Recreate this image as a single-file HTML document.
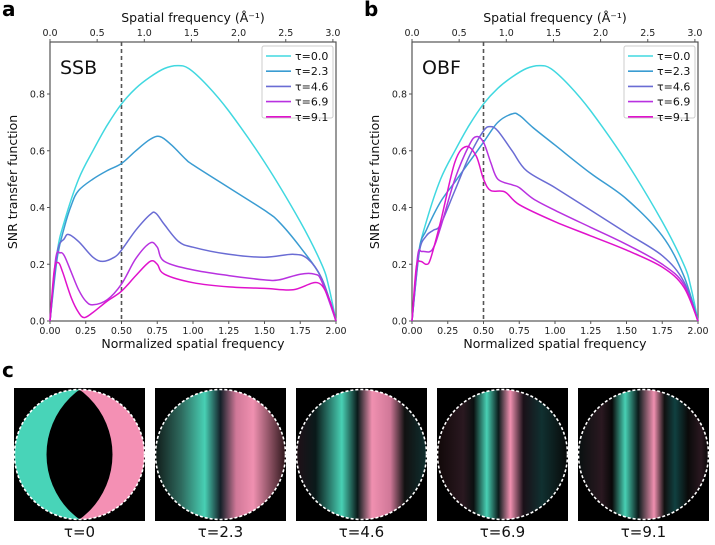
<!DOCTYPE html>
<html><head><meta charset="utf-8"><style>
body{margin:0;background:#fff;width:715px;height:540px;overflow:hidden;font-family:"Liberation Sans","DejaVu Sans",sans-serif}
svg text{font-family:"DejaVu Sans","Liberation Sans",sans-serif}
</style></head><body>
<svg id="fig" width="715" height="540" viewBox="0 0 715 540" xmlns="http://www.w3.org/2000/svg">
<defs>
<linearGradient id="g23" x1="0" x2="1"><stop offset="0" stop-color="#101a18"/><stop offset="0.2" stop-color="#2e6a5e"/><stop offset="0.38" stop-color="#48d0b4"/><stop offset="0.5" stop-color="#142028"/><stop offset="0.62" stop-color="#d07898"/><stop offset="0.75" stop-color="#f090b0"/><stop offset="1" stop-color="#2a1418"/></linearGradient>
<linearGradient id="g46" x1="0" x2="1"><stop offset="0" stop-color="#201018"/><stop offset="0.15" stop-color="#0a1a1a"/><stop offset="0.35" stop-color="#48d0b4"/><stop offset="0.47" stop-color="#0a1a1a"/><stop offset="0.58" stop-color="#f090b0"/><stop offset="0.72" stop-color="#d07898"/><stop offset="0.83" stop-color="#111"/><stop offset="1" stop-color="#103030"/></linearGradient>
<linearGradient id="g69" x1="0" x2="1"><stop offset="0" stop-color="#100808"/><stop offset="0.2" stop-color="#2a1820"/><stop offset="0.28" stop-color="#0a1010"/><stop offset="0.38" stop-color="#48d0b4"/><stop offset="0.47" stop-color="#0a1a1a"/><stop offset="0.56" stop-color="#f090b0"/><stop offset="0.66" stop-color="#1a1018"/><stop offset="0.8" stop-color="#103030"/><stop offset="1" stop-color="#080808"/></linearGradient>
<linearGradient id="g91" x1="0" x2="1"><stop offset="0" stop-color="#081010"/><stop offset="0.18" stop-color="#2a1820"/><stop offset="0.26" stop-color="#080808"/><stop offset="0.36" stop-color="#48d0b4"/><stop offset="0.46" stop-color="#0a1a1a"/><stop offset="0.58" stop-color="#f090b0"/><stop offset="0.66" stop-color="#101010"/><stop offset="0.74" stop-color="#104040"/><stop offset="0.84" stop-color="#0a0a0a"/><stop offset="0.94" stop-color="#2a1820"/><stop offset="1" stop-color="#080808"/></linearGradient>
</defs>
<g id="panels"></g>
<g id="images"></g>
</svg>
<script>
const NS="http://www.w3.org/2000/svg";
const colors=["#40d8e0","#3a9cd2","#6a6cd4","#b832e0","#e012cc"];
const tauLabels=["τ=0.0","τ=2.3","τ=4.6","τ=6.9","τ=9.1"];
const xTicks=[0,0.25,0.5,0.75,1.0,1.25,1.5,1.75,2.0];
const xTickLabels=["0.00","0.25","0.50","0.75","1.00","1.25","1.50","1.75","2.00"];
const yTicks=[0,0.2,0.4,0.6,0.8];
const yTickLabels=["0.0","0.2","0.4","0.6","0.8"];
const topTicks=[0,0.5,1,1.5,2,2.5,3];
const topTickLabels=["0.0","0.5","1.0","1.5","2.0","2.5","3.0"];
const cutoff=0.5;
const ssbX=[
[0,0.05,0.1,0.2,0.3,0.4,0.5,0.6,0.7,0.8,0.89,0.97,1.1,1.25,1.5,1.75,1.9,1.95,2.0],
[0,0.05,0.1,0.15,0.2,0.3,0.4,0.5,0.6,0.7,0.77,0.85,0.95,1.0,1.25,1.5,1.6,1.75,1.9,2.0],
[0,0.05,0.1,0.13,0.2,0.3,0.37,0.45,0.5,0.6,0.7,0.74,0.8,0.9,1.0,1.25,1.5,1.7,1.8,1.9,2.0],
[0,0.04,0.07,0.1,0.15,0.2,0.25,0.3,0.4,0.5,0.6,0.7,0.75,0.8,1.0,1.25,1.5,1.6,1.75,1.85,1.9,2.0],
[0,0.03,0.06,0.09,0.15,0.2,0.24,0.3,0.4,0.5,0.6,0.7,0.75,0.8,1.0,1.25,1.5,1.7,1.87,1.95,2.0]];
const ssbY=[
[0,0.24,0.35,0.5,0.6,0.69,0.765,0.82,0.86,0.89,0.9,0.89,0.83,0.74,0.56,0.35,0.2,0.12,0],
[0,0.22,0.33,0.41,0.46,0.5,0.53,0.555,0.6,0.64,0.65,0.62,0.57,0.55,0.47,0.39,0.35,0.26,0.15,0],
[0,0.24,0.29,0.305,0.28,0.225,0.21,0.225,0.25,0.32,0.375,0.38,0.34,0.28,0.26,0.235,0.225,0.235,0.22,0.15,0],
[0,0.22,0.24,0.23,0.17,0.11,0.07,0.057,0.075,0.13,0.22,0.275,0.26,0.21,0.18,0.16,0.145,0.145,0.165,0.165,0.14,0],
[0,0.18,0.205,0.17,0.08,0.03,0.012,0.03,0.07,0.105,0.16,0.21,0.2,0.165,0.135,0.12,0.115,0.11,0.135,0.08,0]];
const obfX=[
ssbX[0],
[0,0.05,0.1,0.2,0.3,0.4,0.5,0.6,0.7,0.75,0.85,1.0,1.25,1.5,1.75,1.9,2.0],
[0,0.05,0.1,0.15,0.2,0.3,0.4,0.5,0.55,0.6,0.7,0.8,1.0,1.25,1.5,1.75,1.9,2.0],
[0,0.04,0.07,0.14,0.2,0.3,0.4,0.45,0.5,0.55,0.6,0.7,0.75,0.85,1.0,1.25,1.5,1.75,1.9,2.0],
[0,0.03,0.06,0.1,0.13,0.2,0.3,0.38,0.45,0.5,0.55,0.65,0.75,1.0,1.25,1.5,1.75,1.9,2.0]];
const obfY=[
ssbY[0],
[0,0.25,0.32,0.42,0.49,0.56,0.63,0.7,0.73,0.725,0.68,0.62,0.52,0.43,0.3,0.16,0],
[0,0.24,0.3,0.32,0.34,0.46,0.58,0.67,0.685,0.67,0.6,0.53,0.47,0.39,0.31,0.23,0.14,0],
[0,0.23,0.245,0.25,0.33,0.5,0.62,0.65,0.63,0.56,0.5,0.48,0.47,0.43,0.39,0.33,0.27,0.2,0.13,0],
[0,0.19,0.21,0.2,0.22,0.35,0.56,0.615,0.58,0.5,0.46,0.455,0.41,0.35,0.3,0.25,0.19,0.12,0]];

function el(tag,attrs,parent,txt){const e=document.createElementNS(NS,tag);for(const k in attrs)e.setAttribute(k,attrs[k]);if(txt!==undefined)e.textContent=txt;parent.appendChild(e);return e;}
function smooth(pts){let d="M"+pts[0][0].toFixed(1)+","+pts[0][1].toFixed(1);
for(let i=0;i<pts.length-1;i++){const p0=pts[Math.max(0,i-1)],p1=pts[i],p2=pts[i+1],p3=pts[Math.min(pts.length-1,i+2)];
const c1=[p1[0]+(p2[0]-p0[0])/6,p1[1]+(p2[1]-p0[1])/6],c2=[p2[0]-(p3[0]-p1[0])/6,p2[1]-(p3[1]-p1[1])/6];
d+=" C"+c1[0].toFixed(1)+","+c1[1].toFixed(1)+" "+c2[0].toFixed(1)+","+c2[1].toFixed(1)+" "+p2[0].toFixed(1)+","+p2[1].toFixed(1);}return d;}

const root=document.getElementById("panels");
function panel(x0,name,letter,label,XS,YS){
 const yTop=42,y0=321;
 const sx=v=>x0+v*143, sy=v=>y0-v*283.75, st=v=>x0+v*94.3;
 const g=el("g",{},root);
 
 
 const lt=el("text",{x:x0-48,y:16,"font-size":20,"font-weight":"bold","font-family":"Liberation Sans"},g,letter);
 
 
 const fr=el("rect",{x:x0,y:yTop,width:286,height:y0-yTop,fill:"none",stroke:"#555","stroke-width":1.2},g);
 
 
 xTicks.forEach((t,i)=>{el("line",{x1:sx(t),x2:sx(t),y1:y0,y2:y0+3,stroke:"#555"},g);
  const tx=el("text",{x:sx(t),y:y0+13,"font-size":9.5,"text-anchor":"middle",fill:"#222"},g,xTickLabels[i]);
  
  });
 yTicks.forEach((t,i)=>{el("line",{x1:x0-3,x2:x0,y1:sy(t),y2:sy(t),stroke:"#555"},g);
  const tx=el("text",{x:x0-5,y:sy(t)+3.5,"font-size":9.5,"text-anchor":"end",fill:"#222"},g,yTickLabels[i]);
  
  });
 topTicks.forEach((t,i)=>{el("line",{x1:st(t),x2:st(t),y1:yTop-3,y2:yTop,stroke:"#555"},g);
  const tx=el("text",{x:st(t),y:yTop-6,"font-size":9.5,"text-anchor":"middle",fill:"#222"},g,topTickLabels[i]);
  
  });
 const tt=el("text",{x:x0+143,y:22,"font-size":12.5,"text-anchor":"middle",fill:"#111"},g,"Spatial frequency (Å⁻¹)");
 
 
 const xt=el("text",{x:x0+143,y:348,"font-size":12.5,"text-anchor":"middle",fill:"#111"},g,"Normalized spatial frequency");
 
 
 const yt=el("text",{x:0,y:0,"font-size":12.5,"text-anchor":"middle",fill:"#111",transform:`translate(${x0-33},182) rotate(-90)`},g,"SNR transfer function");
 
 
 const dl=el("line",{x1:sx(cutoff),x2:sx(cutoff),y1:yTop,y2:y0,stroke:"#555","stroke-width":1.6,"stroke-dasharray":"4,3"},g);
 
 
 XS.forEach((xs,s)=>{const pts=xs.map((v,i)=>[sx(v),sy(YS[s][i])]);
  const p=el("path",{d:smooth(pts),fill:"none",stroke:colors[s],"stroke-width":1.5},g);
  
  });
 const lab=el("text",{x:x0+10,y:74,"font-size":19,fill:"#111"},g,label);
 
 
 const lg=el("g",{},g);
 
 
 el("rect",{x:x0+212,y:46,width:71,height:72,fill:"#fff",stroke:"#ccc",rx:2},lg);
 tauLabels.forEach((t,s)=>{const yy=56+s*15.2;
  el("line",{x1:x0+216,x2:x0+241,y1:yy,y2:yy,stroke:colors[s],"stroke-width":1.6},lg);
  const tx=el("text",{x:x0+245,y:yy+4,"font-size":11,fill:"#111"},lg,t);
  
  });
}
panel(50,"ssb","a","SSB",ssbX,ssbY);
panel(412,"obf","b","OBF",obfX,obfY);

const imgs=document.getElementById("images");
const cl=el("text",{x:2,y:377,"font-size":20,"font-weight":"bold","font-family":"Liberation Sans"},imgs,"c");


const imgX=[14,155,296,437,578];
const imgLabels=["τ=0","τ=2.3","τ=4.6","τ=6.9","τ=9.1"];
const fills=[null,"url(#g23)","url(#g46)","url(#g69)","url(#g91)"];
imgX.forEach((x,i)=>{
 const g=el("g",{},imgs);
 
 
 el("rect",{x:x,y:388,width:131,height:133,fill:"#000"},g);
 const cx=x+65.5,cy=454.5,r=65;
 el("clipPath",{id:"c"+i},g);
 const cp=g.lastChild; el("circle",{cx:cx,cy:cy,r:r},cp);
 if(i===0){
  el("rect",{x:x,y:388,width:65.5,height:133,fill:"#48d4b8","clip-path":"url(#c0)"},g);
  el("rect",{x:cx,y:388,width:65.5,height:133,fill:"#f490b4","clip-path":"url(#c0)"},g);
  el("clipPath",{id:"lens0"},g); el("circle",{cx:cx-47.5,cy:cy,r:80.5},g.lastChild);
  el("circle",{cx:cx+47.5,cy:cy,r:80.5,fill:"#000","clip-path":"url(#lens0)"},g);
 } else {
  el("rect",{x:x,y:388,width:131,height:133,fill:fills[i],"clip-path":"url(#c"+i+")"},g);
 }
 el("circle",{cx:cx,cy:cy,r:r,fill:"none",stroke:"#fff","stroke-width":1.6,"stroke-dasharray":"3,2"},g);
 const t=el("text",{x:cx,y:537,"font-size":15,"text-anchor":"middle",fill:"#111","font-family":"Liberation Sans"},g,imgLabels[i]);
 
 
});
</script>
</body></html>
